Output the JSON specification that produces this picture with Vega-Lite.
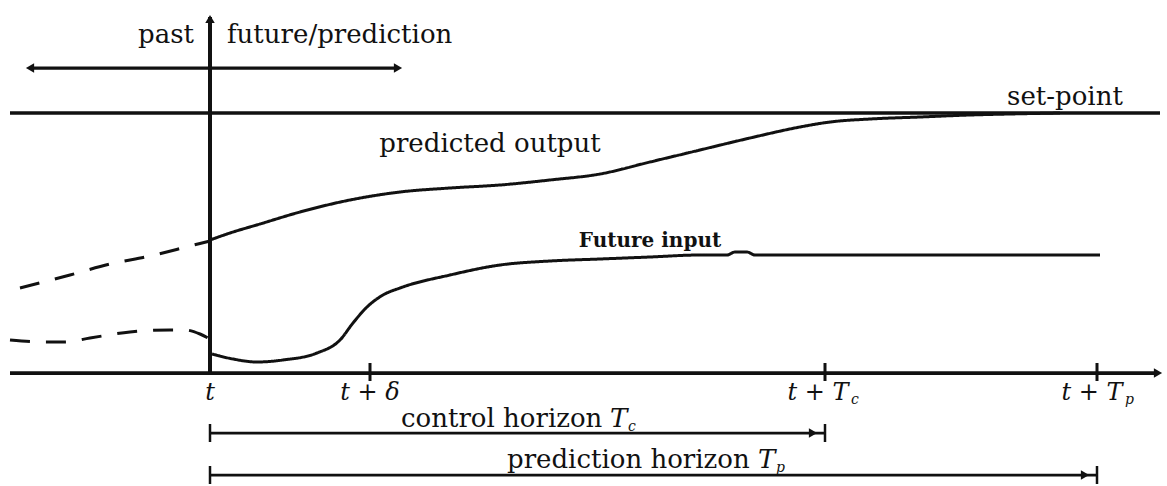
{
  "$schema": "https://vega.github.io/schema/vega-lite/v6.json",
  "width": 1167,
  "height": 486,
  "autosize": {"type": "fit", "contains": "padding"},
  "padding": 0,
  "background": "white",
  "config": {"view": {"stroke": null}},
  "datasets": {
    "curves": [
      {"series": "output", "phase": "past", "x": -190, "y": 85},
      {"series": "output", "phase": "past", "x": -140, "y": 98},
      {"series": "output", "phase": "past", "x": -100, "y": 109},
      {"series": "output", "phase": "past", "x": -60, "y": 117},
      {"series": "output", "phase": "past", "x": -20, "y": 127},
      {"series": "output", "phase": "past", "x": 0, "y": 132},
      {"series": "output", "phase": "future", "x": 0, "y": 133},
      {"series": "output", "phase": "future", "x": 20, "y": 140},
      {"series": "output", "phase": "future", "x": 50, "y": 149},
      {"series": "output", "phase": "future", "x": 90, "y": 161},
      {"series": "output", "phase": "future", "x": 140, "y": 173},
      {"series": "output", "phase": "future", "x": 190, "y": 181},
      {"series": "output", "phase": "future", "x": 240, "y": 185},
      {"series": "output", "phase": "future", "x": 290, "y": 188},
      {"series": "output", "phase": "future", "x": 340, "y": 193},
      {"series": "output", "phase": "future", "x": 390, "y": 199},
      {"series": "output", "phase": "future", "x": 440, "y": 211},
      {"series": "output", "phase": "future", "x": 490, "y": 223},
      {"series": "output", "phase": "future", "x": 540, "y": 235},
      {"series": "output", "phase": "future", "x": 590, "y": 246},
      {"series": "output", "phase": "future", "x": 620, "y": 251},
      {"series": "output", "phase": "future", "x": 660, "y": 254},
      {"series": "output", "phase": "future", "x": 710, "y": 256},
      {"series": "output", "phase": "future", "x": 760, "y": 258},
      {"series": "output", "phase": "future", "x": 800, "y": 259},
      {"series": "output", "phase": "future", "x": 850, "y": 260},
      {"series": "input", "phase": "past", "x": -200, "y": 33},
      {"series": "input", "phase": "past", "x": -165, "y": 31},
      {"series": "input", "phase": "past", "x": -145, "y": 31},
      {"series": "input", "phase": "past", "x": -120, "y": 35},
      {"series": "input", "phase": "past", "x": -80, "y": 41},
      {"series": "input", "phase": "past", "x": -40, "y": 43},
      {"series": "input", "phase": "past", "x": -25, "y": 43},
      {"series": "input", "phase": "past", "x": -10, "y": 39},
      {"series": "input", "phase": "past", "x": -2, "y": 35},
      {"series": "input", "phase": "future", "x": 2, "y": 19},
      {"series": "input", "phase": "future", "x": 23, "y": 14},
      {"series": "input", "phase": "future", "x": 47, "y": 11},
      {"series": "input", "phase": "future", "x": 73, "y": 13},
      {"series": "input", "phase": "future", "x": 107, "y": 20},
      {"series": "input", "phase": "future", "x": 130, "y": 33},
      {"series": "input", "phase": "future", "x": 143, "y": 50},
      {"series": "input", "phase": "future", "x": 157, "y": 66},
      {"series": "input", "phase": "future", "x": 173, "y": 78},
      {"series": "input", "phase": "future", "x": 190, "y": 85},
      {"series": "input", "phase": "future", "x": 240, "y": 98},
      {"series": "input", "phase": "future", "x": 290, "y": 108},
      {"series": "input", "phase": "future", "x": 340, "y": 112},
      {"series": "input", "phase": "future", "x": 390, "y": 114},
      {"series": "input", "phase": "future", "x": 440, "y": 116},
      {"series": "input", "phase": "future", "x": 490, "y": 118},
      {"series": "input", "phase": "future", "x": 517, "y": 118},
      {"series": "input", "phase": "future", "x": 525, "y": 121},
      {"series": "input", "phase": "future", "x": 537, "y": 121},
      {"series": "input", "phase": "future", "x": 545, "y": 118},
      {"series": "input", "phase": "future", "x": 890, "y": 118}
    ],
    "lines": [
      {"kind": "vaxis", "x": 0, "y": 356, "x2": 0, "y2": 0},
      {"kind": "haxis", "x": -200, "y": 0, "x2": 948, "y2": 0},
      {"kind": "setpoint", "x": -200, "y": 260, "x2": 950, "y2": 260},
      {"kind": "timeline", "x": -180, "y": 305, "x2": 188, "y2": 305},
      {"kind": "tick", "x": 160, "y": -8, "x2": 160, "y2": 10},
      {"kind": "tick", "x": 615, "y": -8, "x2": 615, "y2": 10},
      {"kind": "tick", "x": 887, "y": -8, "x2": 887, "y2": 10},
      {"kind": "horizon", "x": 0, "y": -60, "x2": 615, "y2": -60},
      {"kind": "horizon", "x": 0, "y": -102, "x2": 887, "y2": -102},
      {"kind": "cap", "x": 0, "y": -51, "x2": 0, "y2": -69},
      {"kind": "cap", "x": 615, "y": -51, "x2": 615, "y2": -69},
      {"kind": "cap", "x": 0, "y": -93, "x2": 0, "y2": -111},
      {"kind": "cap", "x": 887, "y": -93, "x2": 887, "y2": -111}
    ],
    "heads": [
      {"dir": "up", "x": 0, "y": 354},
      {"dir": "right", "x": 948, "y": 0},
      {"dir": "left", "x": -180, "y": 305},
      {"dir": "right", "x": 188, "y": 305},
      {"dir": "right", "x": 603, "y": -60},
      {"dir": "right", "x": 875, "y": -102}
    ],
    "texts": [
      {"kind": "past", "label": "past", "x": -16, "y": 330},
      {"kind": "future", "label": "future/prediction", "x": 17, "y": 330},
      {"kind": "curve", "label": "set-point", "x": 855, "y": 268},
      {"kind": "curve", "label": "predicted output", "x": 280, "y": 221},
      {"kind": "input", "label": "Future input", "x": 440, "y": 126},
      {"kind": "tick", "label": "t", "x": 0, "y": -27},
      {"kind": "tick", "label": "t + δ", "x": 160, "y": -27},
      {"kind": "tick", "label": "t + T", "x": 608, "y": -27},
      {"kind": "tick", "label": "t + T", "x": 882, "y": -27},
      {"kind": "sub", "label": "c", "x": 641, "y": -31},
      {"kind": "sub", "label": "p", "x": 915, "y": -31},
      {"kind": "horizon", "label": "control horizon", "x": 191, "y": -54},
      {"kind": "horizon", "label": "prediction horizon", "x": 297, "y": -95},
      {"kind": "sym", "label": "T", "x": 400, "y": -54},
      {"kind": "sym", "label": "T", "x": 548, "y": -95},
      {"kind": "sub", "label": "c", "x": 418, "y": -58},
      {"kind": "sub", "label": "p", "x": 566, "y": -99}
    ]
  },
  "encoding": {
    "x": {"field": "x", "type": "quantitative", "scale": {"domain": [-210, 957], "nice": false, "zero": false}, "axis": null},
    "y": {"field": "y", "type": "quantitative", "scale": {"domain": [-113, 373], "nice": false, "zero": false}, "axis": null}
  },
  "layer": [
    {
      "data": {"name": "lines"},
      "mark": {"type": "rule", "color": "#111"},
      "encoding": {
        "x2": {"field": "x2"},
        "y2": {"field": "y2"},
        "strokeWidth": {"field": "kind", "type": "nominal", "scale": {"domain": ["vaxis", "haxis", "setpoint", "timeline", "tick", "horizon", "cap"], "range": [4, 2.5, 1.5, 2.5, 3.5, 2.5, 3]}, "legend": null}
      }
    },
    {
      "data": {"name": "curves"},
      "mark": {"type": "line", "color": "#111", "strokeWidth": 3, "interpolate": "monotone"},
      "encoding": {
        "detail": {"field": "series"},
        "strokeDash": {"field": "phase", "type": "nominal", "scale": {"domain": ["past", "future"], "range": [[20, 16], [1, 0]]}, "legend": null}
      }
    },
    {
      "data": {"name": "heads"},
      "mark": {"type": "point", "filled": true, "color": "#111", "size": 90, "opacity": 1},
      "encoding": {
        "shape": {"field": "dir", "type": "nominal", "scale": {"domain": ["up", "right", "left"], "range": ["triangle-up", "triangle-right", "triangle-left"]}, "legend": null}
      }
    },
    {
      "data": {"name": "texts"},
      "transform": [{"filter": "datum.kind === 'past'"}],
      "mark": {"type": "text", "font": "DejaVu Serif", "fontSize": 26, "align": "right", "baseline": "alphabetic", "color": "#111"},
      "encoding": {"text": {"field": "label"}}
    },
    {
      "data": {"name": "texts"},
      "transform": [{"filter": "datum.kind === 'future' || datum.kind === 'horizon'"}],
      "mark": {"type": "text", "font": "DejaVu Serif", "fontSize": 26, "align": "left", "baseline": "alphabetic", "color": "#111"},
      "encoding": {"text": {"field": "label"}}
    },
    {
      "data": {"name": "texts"},
      "transform": [{"filter": "datum.kind === 'curve'"}],
      "mark": {"type": "text", "font": "DejaVu Serif", "fontSize": 26, "align": "center", "baseline": "alphabetic", "color": "#111"},
      "encoding": {"text": {"field": "label"}}
    },
    {
      "data": {"name": "texts"},
      "transform": [{"filter": "datum.kind === 'input'"}],
      "mark": {"type": "text", "font": "DejaVu Serif", "fontSize": 20, "fontWeight": "bold", "align": "center", "baseline": "alphabetic", "color": "#111"},
      "encoding": {"text": {"field": "label"}}
    },
    {
      "data": {"name": "texts"},
      "transform": [{"filter": "datum.kind === 'tick'"}],
      "mark": {"type": "text", "font": "DejaVu Serif", "fontSize": 24, "fontStyle": "italic", "align": "center", "baseline": "alphabetic", "color": "#111"},
      "encoding": {"text": {"field": "label"}}
    },
    {
      "data": {"name": "texts"},
      "transform": [{"filter": "datum.kind === 'sym'"}],
      "mark": {"type": "text", "font": "DejaVu Serif", "fontSize": 26, "fontStyle": "italic", "align": "left", "baseline": "alphabetic", "color": "#111"},
      "encoding": {"text": {"field": "label"}}
    },
    {
      "data": {"name": "texts"},
      "transform": [{"filter": "datum.kind === 'sub'"}],
      "mark": {"type": "text", "font": "DejaVu Serif", "fontSize": 14, "fontStyle": "italic", "align": "left", "baseline": "alphabetic", "color": "#111"},
      "encoding": {"text": {"field": "label"}}
    }
  ]
}
